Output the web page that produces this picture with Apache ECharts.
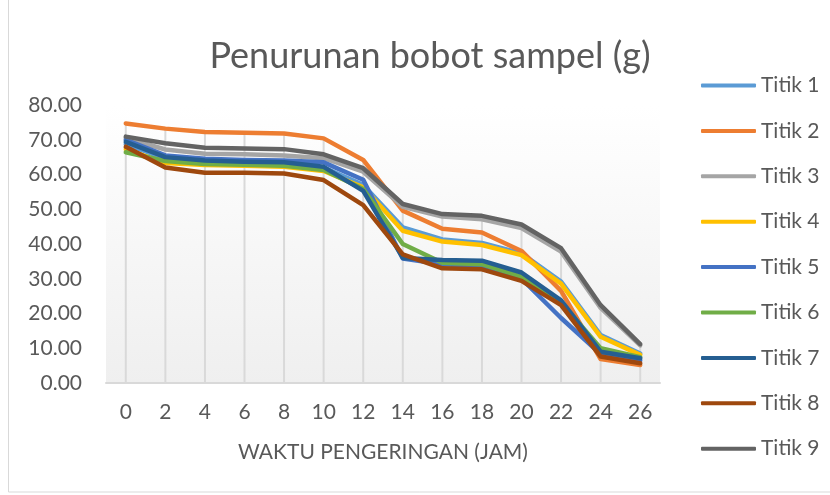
<!DOCTYPE html>
<html>
<head>
<meta charset="utf-8">
<script src="https://cdn.jsdelivr.net/npm/echarts@6/dist/echarts.min.js"></script>
<style>
  html, body { margin: 0; padding: 0; background: #fff; }
  #chart { width: 830px; height: 495px; }
</style>
</head>
<body>
<div id="chart"></div>
<script>
const jam = ['0', '2', '4', '6', '8', '10', '12', '14', '16', '18', '20', '22', '24', '26'];
const names = ['Titik 1', 'Titik 2', 'Titik 3', 'Titik 4', 'Titik 5', 'Titik 6', 'Titik 7', 'Titik 8', 'Titik 9'];
const colors = ['#5B9BD5', '#ED7D31', '#A5A5A5', '#FFC000', '#4472C4', '#70AD47', '#255E91', '#9E480E', '#636363'];

const titik1 = [68.8, 64.5, 63.5, 63.2, 63.0, 62.0, 57.0, 44.8, 41.3, 40.3, 37.3, 29.2, 13.8, 8.5];
const titik2 = [74.7, 73.2, 72.2, 72.0, 71.8, 70.4, 64.2, 49.6, 44.4, 43.3, 38.0, 26.5, 6.9, 5.2];
const titik3 = [70.5, 67.2, 66.0, 65.8, 65.5, 64.7, 60.8, 50.7, 47.9, 47.1, 44.6, 37.8, 21.6, 10.8];
const titik4 = [67.3, 63.3, 62.7, 62.5, 62.2, 61.0, 56.3, 43.8, 40.7, 39.7, 36.8, 28.6, 13.3, 8.1];
const titik5 = [70.0, 65.5, 64.5, 64.2, 64.0, 63.5, 58.5, 35.8, 34.2, 33.6, 30.0, 18.7, 8.3, 6.5];
const titik6 = [66.4, 63.9, 63.0, 62.8, 62.5, 61.3, 55.8, 40.0, 34.6, 34.2, 30.6, 23.2, 10.0, 7.4];
const titik7 = [69.4, 65.0, 64.0, 63.7, 63.5, 62.2, 55.3, 36.0, 35.4, 35.2, 31.8, 23.8, 9.0, 7.1];
const titik8 = [68.0, 62.0, 60.5, 60.5, 60.3, 58.4, 51.2, 37.0, 33.0, 32.7, 29.4, 22.4, 7.6, 5.7];
const titik9 = [70.9, 69.0, 67.7, 67.5, 67.3, 65.8, 61.8, 51.5, 48.6, 48.1, 45.6, 38.8, 22.4, 11.2];

const allData = [titik1, titik2, titik3, titik4, titik5, titik6, titik7, titik8, titik9];
// drop lines: from highest point of each hour down to the axis
const dropMax = jam.map((_, i) => Math.max(...allData.map(d => d[i])));

const font = 'Lato, "Open Sans", sans-serif';
const textGray = '#595959';

const chart = echarts.init(document.getElementById('chart'));

const lineSeries = names.map((n, i) => ({
  name: n,
  type: 'line',
  data: allData[i],
  symbol: 'none',
  z: 3 + i,
  lineStyle: { width: 4.5, color: colors[i], cap: 'round', join: 'round' },
  itemStyle: { color: colors[i] }
}));

chart.setOption({
  animation: false,
  title: {
    text: 'Penurunan bobot sampel (g)',
    left: 425,
    top: 33,
    textAlign: 'center',
    textStyle: { fontFamily: font, fontSize: 36, fontWeight: 'normal', color: textGray }
  },
  legend: {
    orient: 'vertical',
    left: 696,
    top: 70,
    icon: 'roundRect',
    itemWidth: 55,
    itemHeight: 4,
    itemGap: 24.4,
    data: names,
    textStyle: { fontFamily: font, fontSize: 21, color: textGray, lineHeight: 21 }
  },
  grid: {
    left: 106, right: 170, top: 105, bottom: 112,
    show: true,
    borderWidth: 0,
    backgroundColor: new echarts.graphic.LinearGradient(0, 0, 0, 1, [
      { offset: 0, color: '#ffffff' },
      { offset: 1, color: '#efefef' }
    ])
  },
  graphic: [{
    type: 'rect',
    shape: { x: 8.5, y: -2, width: 830, height: 494 },
    style: { fill: 'none', stroke: '#d9d9d9', lineWidth: 1 },
    silent: true
  }],
  xAxis: {
    type: 'category',
    data: jam,
    name: 'WAKTU PENGERINGAN (JAM)',
    nameLocation: 'middle',
    nameGap: 59,
    nameTextStyle: { fontFamily: font, fontSize: 21, color: textGray },
    axisLine: { lineStyle: { color: '#d9d9d9', width: 2 } },
    axisTick: { show: false },
    axisLabel: { fontFamily: font, fontSize: 21, color: textGray, margin: 19 },
    splitLine: { show: false }
  },
  yAxis: {
    type: 'value',
    min: 0,
    max: 80,
    interval: 10,
    axisLine: { show: false },
    axisTick: { show: false },
    splitLine: { show: false },
    axisLabel: {
      fontFamily: font, fontSize: 21, color: textGray, margin: 24,
      formatter: v => v.toFixed(2)
    }
  },
  series: [{
    type: 'bar',
    data: dropMax,
    barWidth: 2,
    silent: true,
    z: 1,
    itemStyle: { color: '#d9d9d9' }
  }].concat(lineSeries)
});
</script>
</body>
</html>
